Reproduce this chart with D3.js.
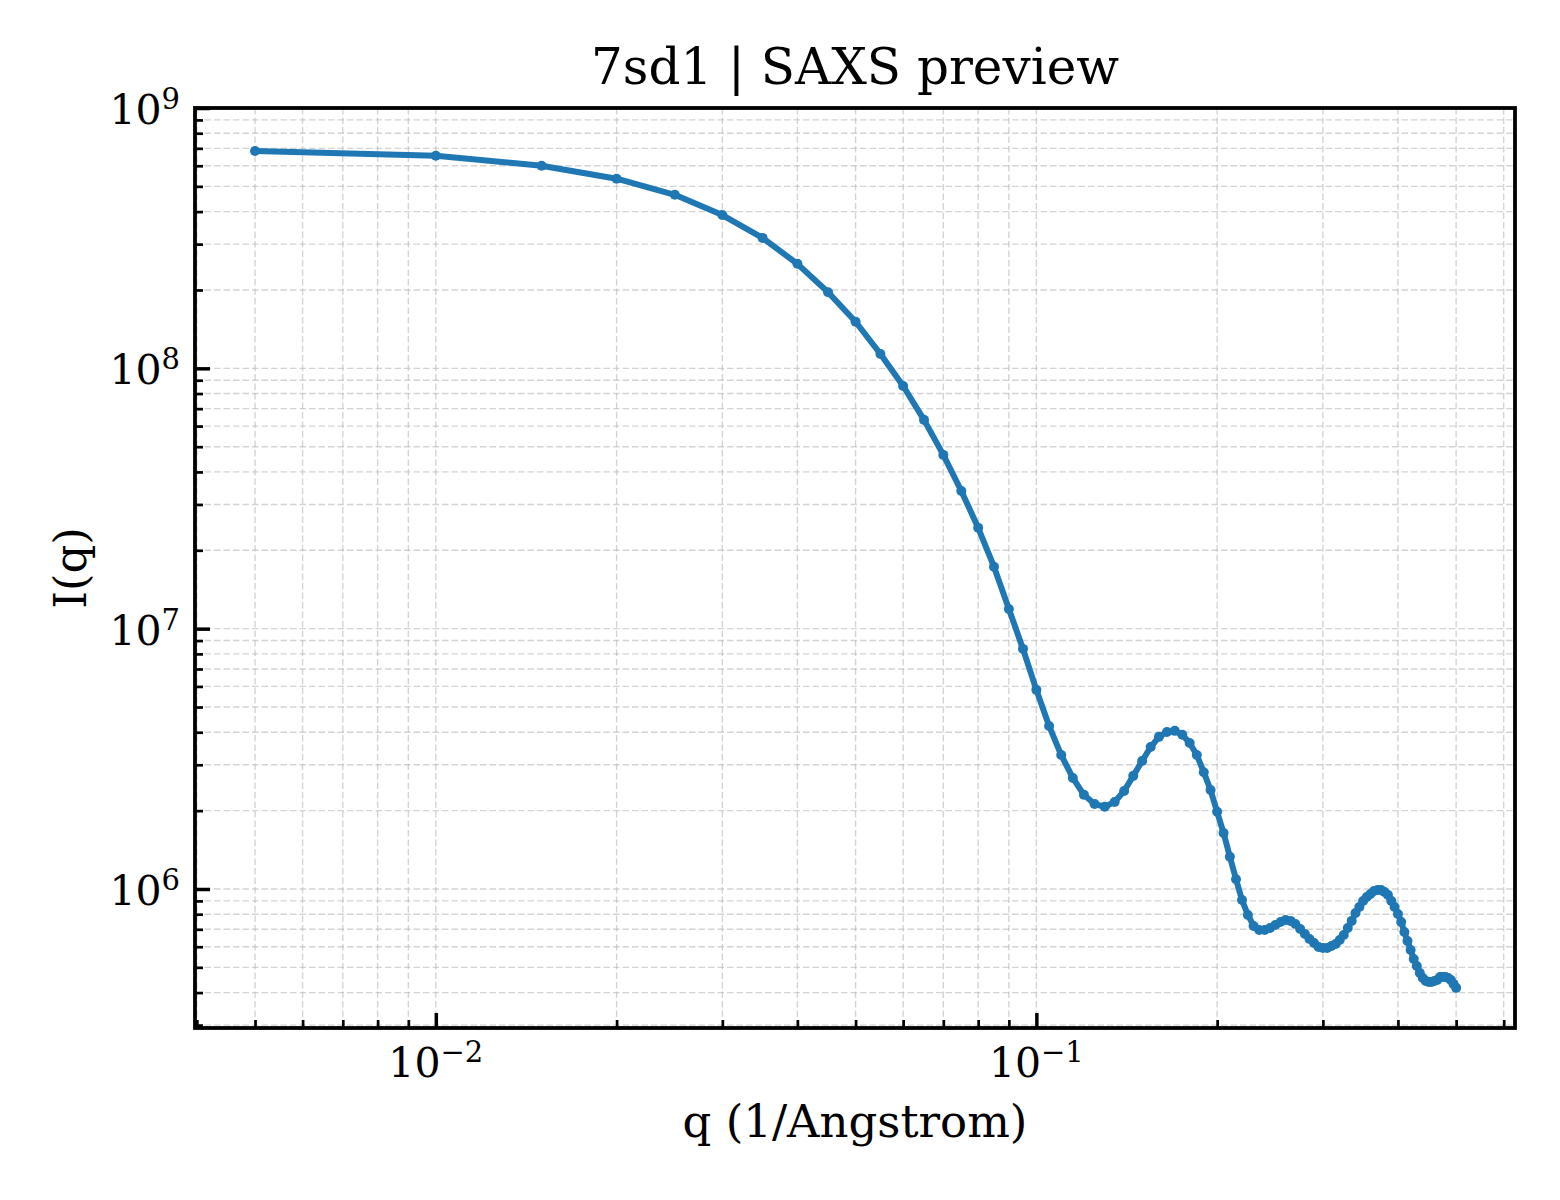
<!DOCTYPE html>
<html>
<head>
<meta charset="utf-8">
<script src="https://cdn.jsdelivr.net/npm/d3@7"></script>
<style>
  html, body { margin: 0; padding: 0; background: #fff; }
  svg { display: block; font-family: "DejaVu Serif", serif; }
</style>
</head>
<body>
<script>
// SAXS preview for 7sd1, log-log I(q) vs q

var qValues = [
  0.005, 0.010, 0.015, 0.020, 0.025, 0.030, 0.035, 0.040, 0.045, 0.050,
  0.055, 0.060, 0.065, 0.070, 0.075, 0.080, 0.085, 0.090, 0.095, 0.100,
  0.105, 0.110, 0.115, 0.120, 0.125, 0.130, 0.135, 0.140, 0.145, 0.150,
  0.155, 0.160, 0.165, 0.170, 0.175, 0.180, 0.185, 0.190, 0.195, 0.200,
  0.205, 0.210, 0.215, 0.220, 0.225, 0.230, 0.235, 0.240, 0.245, 0.250,
  0.255, 0.260, 0.265, 0.270, 0.275, 0.280, 0.285, 0.290, 0.295, 0.300,
  0.305, 0.310, 0.315, 0.320, 0.325, 0.330, 0.335, 0.340, 0.345, 0.350,
  0.355, 0.360, 0.365, 0.370, 0.375, 0.380, 0.385, 0.390, 0.395, 0.400,
  0.405, 0.410, 0.415, 0.420, 0.425, 0.430, 0.435, 0.440, 0.445, 0.450,
  0.455, 0.460, 0.465, 0.470, 0.475, 0.480, 0.485, 0.490, 0.495, 0.500
];

var intensity = [
  6.84e8, 6.55e8, 6.00e8, 5.35e8, 4.64e8, 3.88e8, 3.17e8, 2.52e8, 1.96e8, 1.51e8,
  1.135e8, 8.55e7, 6.34e7, 4.65e7, 3.38e7, 2.44e7, 1.73e7, 1.19e7, 8.36e6, 5.82e6,
  4.23e6, 3.27e6, 2.67e6, 2.30e6, 2.12e6, 2.07e6, 2.16e6, 2.38e6, 2.72e6, 3.10e6,
  3.51e6, 3.84e6, 4.01e6, 4.05e6, 3.91e6, 3.64e6, 3.27e6, 2.81e6, 2.40e6, 1.98e6,
  1.64e6, 1.33e6, 1.09e6, 9.07e5, 7.95e5, 7.21e5, 6.96e5, 6.96e5, 7.08e5, 7.27e5,
  7.47e5, 7.60e5, 7.54e5, 7.34e5, 7.02e5, 6.72e5, 6.43e5, 6.20e5, 5.99e5, 5.93e5,
  5.93e5, 6.04e5, 6.15e5, 6.37e5, 6.66e5, 7.08e5, 7.54e5, 8.09e5, 8.53e5, 8.99e5,
  9.32e5, 9.57e5, 9.82e5, 9.91e5, 9.91e5, 9.74e5, 9.48e5, 8.99e5, 8.53e5, 8.02e5,
  7.47e5, 6.84e5, 6.31e5, 5.83e5, 5.38e5, 5.06e5, 4.76e5, 4.55e5, 4.43e5, 4.39e5,
  4.39e5, 4.43e5, 4.47e5, 4.59e5, 4.59e5, 4.59e5, 4.55e5, 4.47e5, 4.32e5, 4.17e5
];

var xMajorTicks = [0.01, 0.1];
var xTickExponents = ["\u22122", "\u22121"];
var xMinorTicks = [
  0.004, 0.005, 0.006, 0.007, 0.008, 0.009,
  0.02, 0.03, 0.04, 0.05, 0.06, 0.07, 0.08, 0.09,
  0.2, 0.3, 0.4, 0.5, 0.6
];

var yMajorTicks = [1e6, 1e7, 1e8, 1e9];
var yTickExponents = ["6", "7", "8", "9"];
var yMinorTicks = [
  3e5, 4e5, 5e5, 6e5, 7e5, 8e5, 9e5,
  2e6, 3e6, 4e6, 5e6, 6e6, 7e6, 8e6, 9e6,
  2e7, 3e7, 4e7, 5e7, 6e7, 7e7, 8e7, 9e7,
  2e8, 3e8, 4e8, 5e8, 6e8, 7e8, 8e8, 9e8
];

var width = 1560;
var height = 1200;
var plotL = 195, plotR = 1515, plotT = 108, plotB = 1028;
var blue = '#1f77b4';

var svg = d3.select('body').append('svg')
    .attr('width', width)
    .attr('height', height);

var x = d3.scaleLog()
    .domain([Math.pow(10, -2.401), Math.pow(10, -0.203)])
    .range([plotL, plotR]);

var y = d3.scaleLog()
    .domain([Math.pow(10, 5.466), 1e9])
    .range([plotB, plotT]);

// grid, major + minor, same dashed style
var grid = svg.append('g')
    .attr('stroke', '#b0b0b0')
    .attr('stroke-opacity', 0.55)
    .attr('stroke-width', 1.4)
    .attr('stroke-dasharray', '6.5,3');

grid.selectAll('line.gx')
    .data(xMajorTicks.concat(xMinorTicks))
    .enter().append('line')
    .attr('class', 'gx')
    .attr('x1', function(d) { return x(d); })
    .attr('x2', function(d) { return x(d); })
    .attr('y1', plotT)
    .attr('y2', plotB);

grid.selectAll('line.gy')
    .data(yMajorTicks.concat(yMinorTicks))
    .enter().append('line')
    .attr('class', 'gy')
    .attr('x1', plotL)
    .attr('x2', plotR)
    .attr('y1', function(d) { return y(d); })
    .attr('y2', function(d) { return y(d); });

// data
var points = qValues.map(function(q, i) { return { q: q, I: intensity[i] }; });

var line = d3.line()
    .x(function(d) { return x(d.q); })
    .y(function(d) { return y(d.I); });

svg.append('path')
    .datum(points)
    .attr('fill', 'none')
    .attr('stroke', blue)
    .attr('stroke-width', 6)
    .attr('stroke-linejoin', 'round')
    .attr('d', line);

svg.append('g').selectAll('circle')
    .data(points)
    .enter().append('circle')
    .attr('cx', function(d) { return x(d.q); })
    .attr('cy', function(d) { return y(d.I); })
    .attr('r', 5)
    .attr('fill', blue);

// axes: inward ticks on left and bottom only
function drawAxis(axis, ticks, size, w, transform) {
    var g = svg.append('g')
        .attr('transform', transform)
        .call(axis.tickValues(ticks).tickSizeInner(-size).tickSizeOuter(0).tickFormat(''));
    g.select('.domain').remove();
    g.selectAll('.tick line').attr('stroke', '#000').attr('stroke-width', w);
    return g;
}

drawAxis(d3.axisBottom(x), xMinorTicks, 8, 2.7, 'translate(0,' + plotB + ')');
drawAxis(d3.axisBottom(x), xMajorTicks, 15, 3.5, 'translate(0,' + plotB + ')');
drawAxis(d3.axisLeft(y), yMinorTicks, 8, 2.7, 'translate(' + plotL + ',0)');
drawAxis(d3.axisLeft(y), yMajorTicks, 15, 3.5, 'translate(' + plotL + ',0)');

// tick labels 10^n
var xLab = svg.append('g').selectAll('text')
    .data(xMajorTicks)
    .enter().append('text')
    .attr('x', function(d) { return x(d); })
    .attr('y', 1077)
    .attr('text-anchor', 'middle')
    .attr('font-size', 41);
xLab.append('tspan').text('10');
xLab.append('tspan')
    .attr('font-size', 29)
    .attr('dy', -15)
    .text(function(d, i) { return xTickExponents[i]; });

var yLab = svg.append('g').selectAll('text')
    .data(yMajorTicks)
    .enter().append('text')
    .attr('x', 180)
    .attr('y', function(d) { return y(d) + 16; })
    .attr('text-anchor', 'end')
    .attr('font-size', 41);
yLab.append('tspan').text('10');
yLab.append('tspan')
    .attr('font-size', 29)
    .attr('dy', -15)
    .text(function(d, i) { return yTickExponents[i]; });

// frame
svg.append('rect')
    .attr('x', plotL)
    .attr('y', plotT)
    .attr('width', plotR - plotL)
    .attr('height', plotB - plotT)
    .attr('fill', 'none')
    .attr('stroke', '#000')
    .attr('stroke-width', 3.8);

// titles
svg.append('text')
    .attr('x', (plotL + plotR) / 2)
    .attr('y', 84)
    .attr('text-anchor', 'middle')
    .attr('font-size', 50)
    .text('7sd1 | SAXS preview');

svg.append('text')
    .attr('x', (plotL + plotR) / 2)
    .attr('y', 1137)
    .attr('text-anchor', 'middle')
    .attr('font-size', 45)
    .text('q (1/Angstrom)');

svg.append('text')
    .attr('transform', 'translate(86,' + ((plotT + plotB) / 2) + ') rotate(-90)')
    .attr('text-anchor', 'middle')
    .attr('font-size', 45)
    .text('I(q)');
</script>
</body>
</html>
